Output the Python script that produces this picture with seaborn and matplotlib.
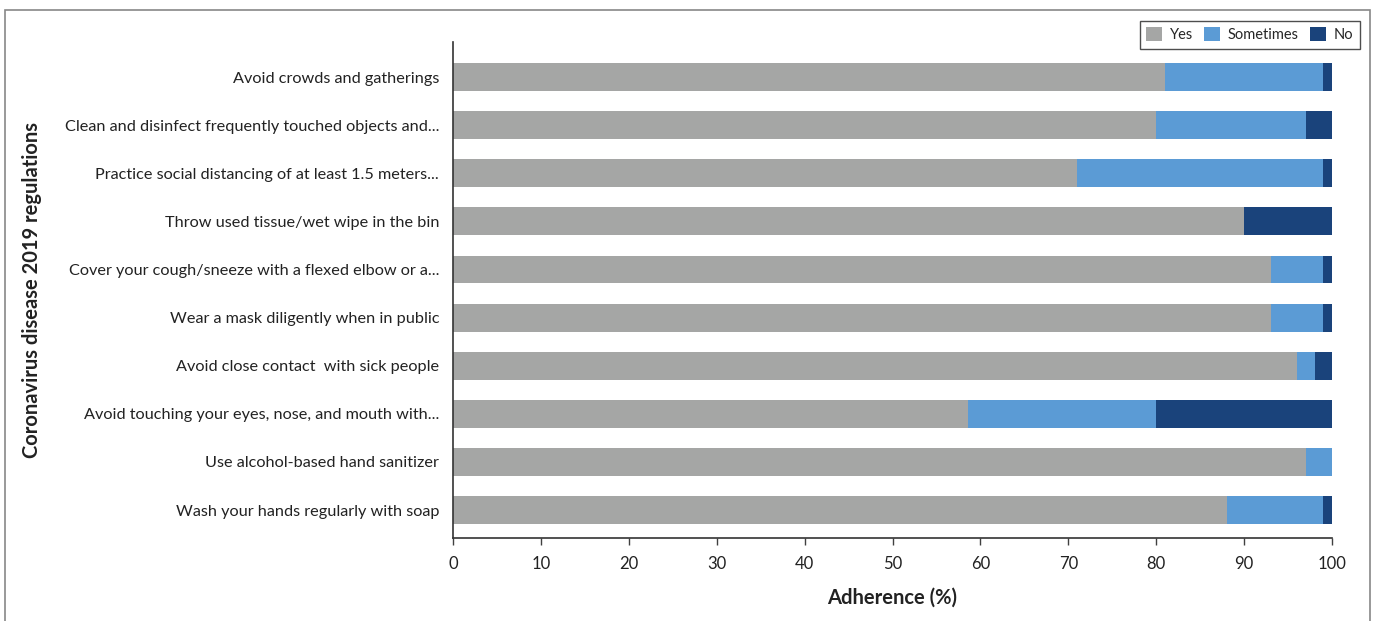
import matplotlib
matplotlib.use("Agg")
import matplotlib.pyplot as plt
from matplotlib.patches import Rectangle, Patch
import pandas as pd
import seaborn as sns

categories = [
    "Avoid crowds and gatherings",
    "Clean and disinfect frequently touched objects and...",
    "Practice social distancing of at least 1.5 meters...",
    "Throw used tissue/wet wipe in the bin",
    "Cover your cough/sneeze with a flexed elbow or a...",
    "Wear a mask diligently when in public",
    "Avoid close contact  with sick people",
    "Avoid touching your eyes, nose, and mouth with...",
    "Use alcohol-based hand sanitizer",
    "Wash your hands regularly with soap",
]
yes = [81, 80, 71, 90, 93, 93, 96, 58.6, 97, 88]
sometimes = [18, 17, 28, 0, 6, 6, 2, 21.4, 3, 11]
no = [1, 3, 1, 10, 1, 1, 2, 20, 0, 1]
series_names = ["Yes", "Sometimes", "No"]
colors = ["#A5A6A5", "#5B9BD5", "#1A437B"]

sns.set_theme(style="white")
plt.rcParams["font.family"] = ["Lato", "DejaVu Sans"]

df = pd.DataFrame({"category": categories, "yes": yes, "sometimes": sometimes, "no": no})
df["cum_yes"] = df["yes"]
df["cum_some"] = df["yes"] + df["sometimes"]
df["cum_no"] = df["cum_some"] + df["no"]

fig = plt.figure(figsize=(13.75, 6.21), dpi=100)
ax = fig.add_axes([0.3295, 0.1337, 0.6393, 0.7987])

# stacked bars: draw cumulative totals back to front
for col, c in zip(["cum_no", "cum_some", "cum_yes"], colors[::-1]):
    sns.barplot(data=df, x=col, y="category", color=c, width=0.58,
                orient="h", ax=ax, saturation=1, edgecolor="none")

ax.set_xlim(0, 100)
ax.set_ylim(len(categories) - 1 + 0.58, -0.73)
ax.set_xticks(range(0, 101, 10))
ax.tick_params(axis="x", length=5, width=1, color="#404040", labelsize=12,
               bottom=True, pad=8, labelcolor="#222222")
ax.tick_params(axis="y", length=0, labelsize=11.7, pad=10, labelcolor="#222222")
for s in ["top", "right"]:
    ax.spines[s].set_visible(False)
for s in ["left", "bottom"]:
    ax.spines[s].set_color("#333333")
    ax.spines[s].set_linewidth(1.2)

ax.set_xlabel("Adherence (%)", fontsize=14.5, fontweight="bold", labelpad=11, color="#222222")
ax.set_ylabel("Coronavirus disease 2019 regulations", fontsize=14.5, fontweight="bold",
              color="#222222")
ax.yaxis.set_label_coords(-0.468, 0.5)

handles = [Patch(facecolor=c, edgecolor="none") for c in colors]
leg = ax.legend(handles, series_names, loc="upper right", ncol=3,
                bbox_to_anchor=(1.040, 1.058), frameon=True, fancybox=False,
                fontsize=10.5, handlelength=1.1, handleheight=1.1,
                handletextpad=0.5, columnspacing=0.8, borderpad=0.45)
leg.get_frame().set_edgecolor("#222222")
leg.get_frame().set_linewidth(1.0)

# outer frame around the chart
fig.patches.append(Rectangle((5 / 1375, -0.01), 1365 / 1375, 1 - 10 / 621 + 0.01,
                             transform=fig.transFigure, fill=False,
                             edgecolor="#888888", linewidth=1.2))

fig.savefig("out.png", dpi=100)
